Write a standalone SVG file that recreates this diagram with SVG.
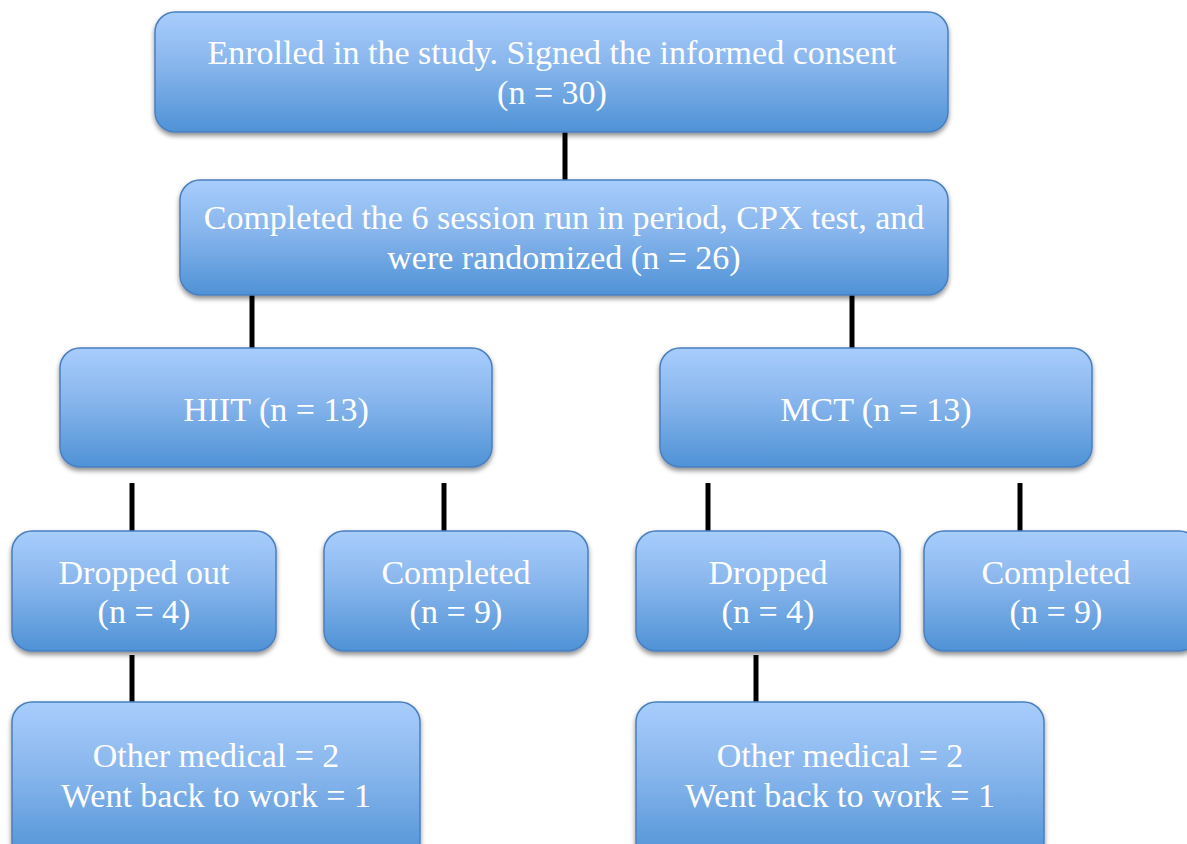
<svg xmlns="http://www.w3.org/2000/svg" width="1187" height="844" viewBox="0 0 1187 844">
<defs>
<linearGradient id="g" x1="0" y1="0" x2="0" y2="1">
<stop offset="0" stop-color="#a8cdfc"/>
<stop offset="0.45" stop-color="#87b5ec"/>
<stop offset="1" stop-color="#4f92d6"/>
</linearGradient>
<filter id="sh" x="-10%" y="-10%" width="120%" height="130%">
<feGaussianBlur in="SourceAlpha" stdDeviation="2.5"/>
<feOffset dx="0" dy="3" result="b"/>
<feComponentTransfer><feFuncA type="linear" slope="0.45"/></feComponentTransfer>
<feMerge><feMergeNode/><feMergeNode in="SourceGraphic"/></feMerge>
</filter>
</defs>
<style>
.box{fill:url(#g);stroke:#4a7fbf;stroke-width:1.5;filter:url(#sh)}
.t{font-family:"Liberation Serif","DejaVu Serif",serif;font-size:34px;fill:#ffffff;text-anchor:middle}
.c{stroke:#000;stroke-width:5;fill:none}
</style>
<rect width="1187" height="844" fill="#ffffff"/>
<g id="connectors">
<line class="c" x1="565" y1="132" x2="565" y2="180"/>
<line class="c" x1="252" y1="295" x2="252" y2="348"/>
<line class="c" x1="852" y1="295" x2="852" y2="348"/>
<line class="c" x1="132" y1="483" x2="132" y2="531"/>
<line class="c" x1="444" y1="483" x2="444" y2="531"/>
<line class="c" x1="708" y1="483" x2="708" y2="531"/>
<line class="c" x1="1020" y1="483" x2="1020" y2="531"/>
<line class="c" x1="132" y1="655" x2="132" y2="702"/>
<line class="c" x1="756" y1="655" x2="756" y2="702"/>
</g>
<g id="enrolled">
<rect class="box" x="155" y="12" width="793" height="120" rx="20"/>
<text class="t" x="552" y="64">Enrolled in the study. Signed the informed consent</text>
<text class="t" x="552" y="104">(n = 30)</text>
</g>
<g id="randomized">
<rect class="box" x="180" y="180" width="768" height="115" rx="20"/>
<text class="t" x="564" y="229">Completed the 6 session run in period, CPX test, and</text>
<text class="t" x="564" y="269">were randomized (n = 26)</text>
</g>
<g id="hiit">
<rect class="box" x="60" y="348" width="432" height="119" rx="20"/>
<text class="t" x="276" y="421">HIIT (n = 13)</text>
</g>
<g id="mct">
<rect class="box" x="660" y="348" width="432" height="119" rx="20"/>
<text class="t" x="876" y="421">MCT (n = 13)</text>
</g>
<g id="hiit-dropped">
<rect class="box" x="12" y="531" width="264" height="120" rx="20"/>
<text class="t" x="144" y="584">Dropped out</text>
<text class="t" x="144" y="623">(n = 4)</text>
</g>
<g id="hiit-completed">
<rect class="box" x="324" y="531" width="264" height="120" rx="20"/>
<text class="t" x="456" y="584">Completed</text>
<text class="t" x="456" y="623">(n = 9)</text>
</g>
<g id="mct-dropped">
<rect class="box" x="636" y="531" width="264" height="120" rx="20"/>
<text class="t" x="768" y="584">Dropped</text>
<text class="t" x="768" y="623">(n = 4)</text>
</g>
<g id="mct-completed">
<rect class="box" x="924" y="531" width="275" height="120" rx="20"/>
<text class="t" x="1056" y="584">Completed</text>
<text class="t" x="1056" y="623">(n = 9)</text>
</g>
<g id="hiit-reasons">
<rect class="box" x="12" y="702" width="408" height="160" rx="20"/>
<text class="t" x="216" y="767">Other medical = 2</text>
<text class="t" x="216" y="807">Went back to work = 1</text>
</g>
<g id="mct-reasons">
<rect class="box" x="636" y="702" width="408" height="160" rx="20"/>
<text class="t" x="840" y="767">Other medical = 2</text>
<text class="t" x="840" y="807">Went back to work = 1</text>
</g>
</svg>
